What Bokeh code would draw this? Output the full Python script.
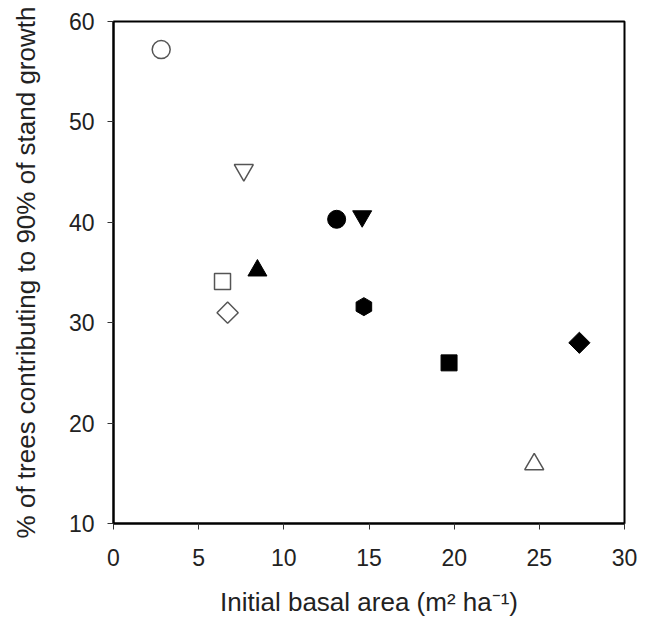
import math
from bokeh.plotting import figure
from bokeh.models import FixedTicker, Range1d
from bokeh.embed import file_html
from bokeh.resources import INLINE

# Data
open_circle_x = [2.8];   open_circle_y = [57.2]
open_dtri_x = [7.65];    open_dtri_y = [45.2]
open_square_x = [6.4];   open_square_y = [34.1]
open_diamond_x = [6.7];  open_diamond_y = [31.0]
open_tri_x = [24.7];     open_tri_y = [15.9]

fill_circle_x = [13.1];  fill_circle_y = [40.3]
fill_dtri_x = [14.6];    fill_dtri_y = [40.6]
fill_tri_x = [8.45];     fill_tri_y = [35.2]
fill_hex_x = [14.7];     fill_hex_y = [31.6]
fill_square_x = [19.7];  fill_square_y = [26.0]
fill_diamond_x = [27.35]; fill_diamond_y = [28.0]

x_ticks = [0, 5, 10, 15, 20, 25, 30]
y_ticks = [10, 20, 30, 40, 50, 60]

p = figure(width=639, height=611, output_backend="svg", toolbar_location=None,
           x_range=Range1d(0, 30), y_range=Range1d(10, 60),
           min_border_left=113, min_border_right=15, min_border_top=21, min_border_bottom=88)
p.frame_width = 511
p.frame_height = 502
p.grid.visible = False
p.outline_line_color = "black"
p.outline_line_width = 2
p.outline_line_alpha = 1
p.background_fill_color = "white"
p.border_fill_color = "white"

for ax in (p.xaxis[0], p.yaxis[0]):
    ax.axis_line_width = 2
    ax.axis_line_color = "black"
    ax.major_tick_out = 6
    ax.major_tick_in = 0
    ax.major_tick_line_color = "#333333"
    ax.major_tick_line_width = 1
    ax.minor_tick_line_color = None
    ax.major_label_text_font = "Liberation Sans"
    ax.major_label_text_font_size = "23px"
    ax.major_label_text_color = "#222222"
    ax.axis_label_text_font = "Liberation Sans"
    ax.axis_label_text_font_size = "26px"
    ax.axis_label_text_font_style = "normal"
    ax.axis_label_text_color = "#222222"

p.xaxis.ticker = FixedTicker(ticks=x_ticks)
p.yaxis.ticker = FixedTicker(ticks=y_ticks)
p.xaxis.major_label_standoff = 19
p.yaxis.major_label_standoff = 13
p.xaxis.axis_label = "Initial basal area (m\u00b2 ha\u207b\u00b9)"
p.yaxis.axis_label = "% of trees contributing to 90% of stand growth"
p.xaxis.axis_label_standoff = 18
p.yaxis.axis_label_standoff = 25

oc = "#555555"
lw = 1.5
p.scatter(open_circle_x, open_circle_y, marker="circle", size=18, fill_color="white", line_color=oc, line_width=lw)
p.scatter(open_dtri_x, open_dtri_y, marker="inverted_triangle", size=19, fill_color="white", line_color=oc, line_width=lw)
p.scatter(open_square_x, open_square_y, marker="square", size=16, fill_color="white", line_color=oc, line_width=lw)
p.scatter(open_diamond_x, open_diamond_y, marker="square", size=15, angle=math.pi/4, fill_color="white", line_color=oc, line_width=lw)
p.scatter(open_tri_x, open_tri_y, marker="triangle", size=19, fill_color="white", line_color=oc, line_width=lw)

p.scatter(fill_circle_x, fill_circle_y, marker="circle", size=18, fill_color="black", line_color="black")
p.scatter(fill_dtri_x, fill_dtri_y, marker="inverted_triangle", size=19, fill_color="black", line_color="black")
p.scatter(fill_tri_x, fill_tri_y, marker="triangle", size=19, fill_color="black", line_color="black")
p.scatter(fill_hex_x, fill_hex_y, marker="hex", size=18, angle=math.pi/2, fill_color="black", line_color="black")
p.scatter(fill_square_x, fill_square_y, marker="square", size=16, fill_color="black", line_color="black")
p.scatter(fill_diamond_x, fill_diamond_y, marker="square", size=15, angle=math.pi/4, fill_color="black", line_color="black")

open("out.html", "w").write(file_html(p, INLINE))
